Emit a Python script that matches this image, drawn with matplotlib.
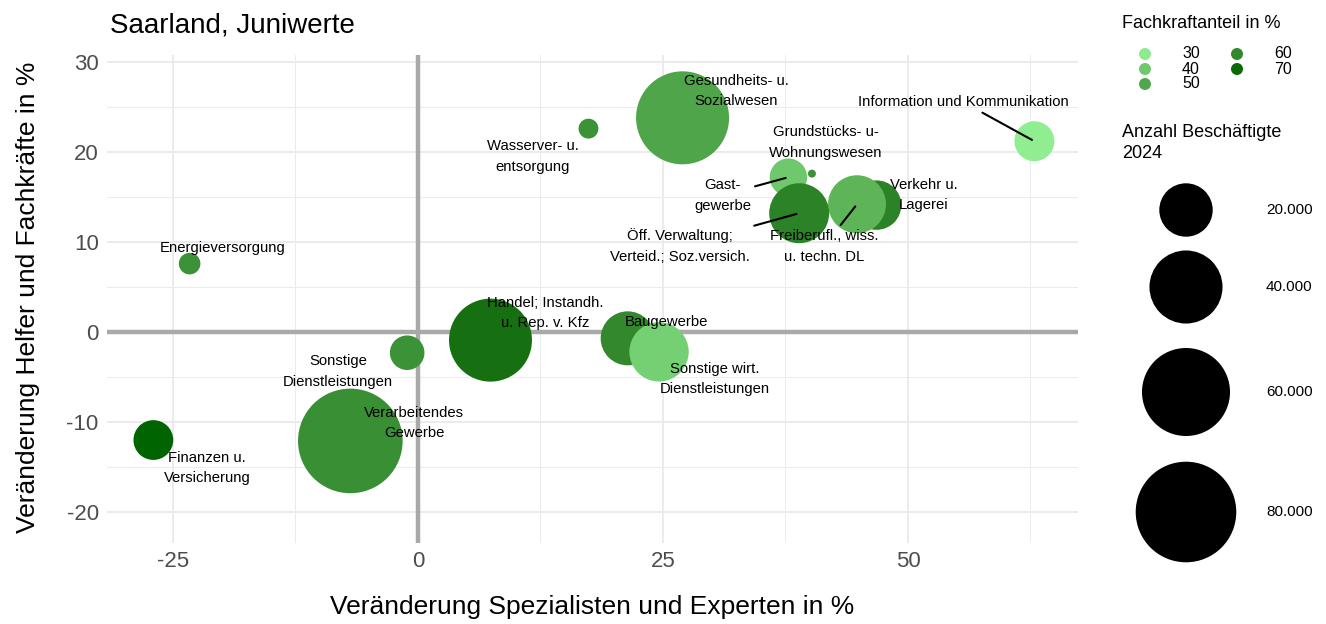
import numpy as np
import matplotlib
matplotlib.use("Agg")
import matplotlib.pyplot as plt
from matplotlib.colors import ListedColormap, Normalize, to_rgb

plt.rcParams["font.family"] = ["Liberation Sans", "DejaVu Sans"]

DPI = 100

# Wirtschaftszweige (WZ-Reihenfolge)
branchen = [
    "Verarbeitendes\nGewerbe",
    "Energieversorgung",
    "Wasserver- u.\nentsorgung",
    "Baugewerbe",
    "Handel; Instandh.\nu. Rep. v. Kfz",
    "Verkehr u.\nLagerei",
    "Gast-\ngewerbe",
    "Information und Kommunikation",
    "Finanzen u.\nVersicherung",
    "Grundstücks- u-\nWohnungswesen",
    "Freiberufl., wiss.\nu. techn. DL",
    "Sonstige wirt.\nDienstleistungen",
    "Öff. Verwaltung;\nVerteid.; Soz.versich.",
    "Gesundheits- u.\nSozialwesen",
    "Sonstige\nDienstleistungen",
]
spezialisten = [-6.9, -23.3, 17.4, 21.4, 7.4, 46.8, 37.8, 62.9, -27.0, 40.2, 44.8, 24.6, 38.9, 27.0, -1.1]
helfer_fach = [-12.1, 7.6, 22.6, -0.7, -0.9, 14.1, 17.2, 21.2, -12.0, 17.6, 14.2, -2.2, 13.2, 23.8, -2.3]
beschaeftigte = [87000, 2700, 2300, 20500, 52800, 16800, 9000, 10400, 10300, 1000, 24000, 25300, 25900, 67600, 7500]
fachkraftanteil = [58, 57, 57, 60, 68, 62, 40, 29, 72, 57, 46, 38, 62, 51, 57]

farb_breaks = [30, 40, 50, 60, 70]
groessen_breaks = [20000, 40000, 60000, 80000]
groessen_labels = ["20.000", "40.000", "60.000", "80.000"]

# label placement (pixel offsets from the bubble, like ggrepel ended up)
label_offsets = [(64, 18), (33, 16), (-56, -28), (39, 16), (55, 27), (47, 10), (-66, -18),
                 (-71, 39), (54, -28), (14, 31), (-33, -42), (56, -27), (-119, -33), (54, 27), (-69, -19)]
with_segment = {6, 7, 10, 12}


# gradient interpolated in CIELAB, like ggplot's scale_colour_gradient
def _to_lab(c):
    rgb = np.array(to_rgb(c))
    lin = np.where(rgb <= 0.04045, rgb / 12.92, ((rgb + 0.055) / 1.055) ** 2.4)
    m = np.array([[0.4124, 0.3576, 0.1805], [0.2126, 0.7152, 0.0722], [0.0193, 0.1192, 0.9505]])
    xyz = m @ lin / np.array([0.95047, 1.0, 1.08883])
    f = np.where(xyz > 0.008856, np.cbrt(xyz), 7.787 * xyz + 16 / 116)
    return np.array([116 * f[1] - 16, 500 * (f[0] - f[1]), 200 * (f[1] - f[2])])


def _from_lab(lab):
    fy = (lab[1 - 1] + 16) / 116
    fx = fy + lab[1] / 500
    fz = fy - lab[2] / 200
    f = np.array([fx, fy, fz])
    xyz = np.where(f ** 3 > 0.008856, f ** 3, (f - 16 / 116) / 7.787) * np.array([0.95047, 1.0, 1.08883])
    mi = np.array([[3.2406, -1.5372, -0.4986], [-0.9689, 1.8758, 0.0415], [0.0557, -0.2040, 1.0570]])
    lin = mi @ xyz
    rgb = np.where(lin <= 0.0031308, 12.92 * lin, 1.055 * np.clip(lin, 0, None) ** (1 / 2.4) - 0.055)
    return np.clip(rgb, 0, 1)


lo, hi = _to_lab("#90EE90"), _to_lab("#006400")
cmap = ListedColormap([_from_lab(lo + (hi - lo) * t) for t in np.linspace(0, 1, 256)])
norm = Normalize(min(fachkraftanteil), max(fachkraftanteil))

vmin, vmax = min(beschaeftigte), max(beschaeftigte)
R_MIN, R_MAX = 4.0, 52.3


def bubble_area(v):
    t = np.clip((np.asarray(v, float) - vmin) / (vmax - vmin), 0, None)
    r = R_MIN + (R_MAX - R_MIN) * np.sqrt(t)
    return (2 * r * 72 / DPI) ** 2


fig = plt.figure(figsize=(13.26, 6.24), dpi=DPI)
W, H = 1326, 624
ax = fig.add_axes([107 / W, 1 - 543 / H, (1078 - 107) / W, (543 - 55) / H])

ax.set_xlim(-31.73, 67.35)
ax.set_ylim(-23.44, 30.78)
ax.set_xticks([-25, 0, 25, 50])
ax.set_xticks([-12.5, 12.5, 37.5, 62.5], minor=True)
ax.set_yticks([-20, -10, 0, 10, 20, 30])
ax.set_yticklabels(["-20", "-10", "0", "10", "20", "30"])
ax.set_xticklabels(["-25", "0", "25", "50"])
ax.set_yticks([-15, -5, 5, 15, 25], minor=True)
ax.grid(which="major", color="#ebebeb", lw=1.4, zorder=0)
ax.grid(which="minor", color="#ebebeb", lw=0.7, zorder=0)
ax.set_axisbelow(True)
for s in ax.spines.values():
    s.set_visible(False)
ax.tick_params(which="both", length=0, labelsize=16, labelcolor="#4d4d4d")
ax.tick_params(axis="x", pad=6)
ax.tick_params(axis="y", pad=6)

ax.axhline(0, color="#a9a9a9", lw=3.2, zorder=1)
ax.axvline(0, color="#a9a9a9", lw=3.2, zorder=1)

ax.scatter(spezialisten, helfer_fach, s=bubble_area(beschaeftigte),
           c=cmap(norm(fachkraftanteil)), edgecolors="none", zorder=3)

for i, lab in enumerate(branchen):
    arrow = None
    if i in with_segment:
        arrow = dict(arrowstyle="-", color="black", lw=1.5, shrinkA=1, shrinkB=2)
    ax.annotate(lab, (spezialisten[i], helfer_fach[i]), xytext=label_offsets[i],
                textcoords="offset pixels", ha="center", va="center",
                fontsize=10.7, linespacing=1.6, color="black",
                arrowprops=arrow, zorder=5)

fig.text(110 / W, 1 - 33 / H, "Saarland, Juniwerte", fontsize=20, va="baseline")
fig.text(592 / W, 1 - 607 / H, "Veränderung Spezialisten und Experten in %",
         fontsize=19, ha="center", va="center")
fig.text(28 / W, 1 - 297 / H, "Veränderung Helfer und Fachkräfte in %",
         fontsize=19, ha="center", va="center", rotation=90)

# legends, drawn in pixel space
lg = fig.add_axes([0, 0, 1, 1], facecolor="none")
lg.set_xlim(0, W)
lg.set_ylim(H, 0)
lg.axis("off")

lg.text(1122, 24, "Fachkraftanteil in %", fontsize=13, va="center")
farb_pos = [(1145, 54), (1145, 69), (1145, 84), (1237, 54), (1237, 69)]
for b, (px, py) in zip(farb_breaks, farb_pos):
    lg.scatter([px], [py], s=(12 * 72 / DPI) ** 2, color=cmap(norm(b)), edgecolors="none")
    lg.text(px + 37, py, str(b), fontsize=11.5, va="center")

lg.text(1122, 143, "Anzahl Beschäftigte\n2024", fontsize=13, va="center", linespacing=1.25)
groessen_y = [210, 287, 392, 512]
lg.scatter([1186] * 4, groessen_y, s=bubble_area(groessen_breaks), color="black", edgecolors="none")
for lab, py in zip(groessen_labels, groessen_y):
    lg.text(1266, py, lab, fontsize=11, va="center")

fig.savefig("out.png", dpi=DPI)
